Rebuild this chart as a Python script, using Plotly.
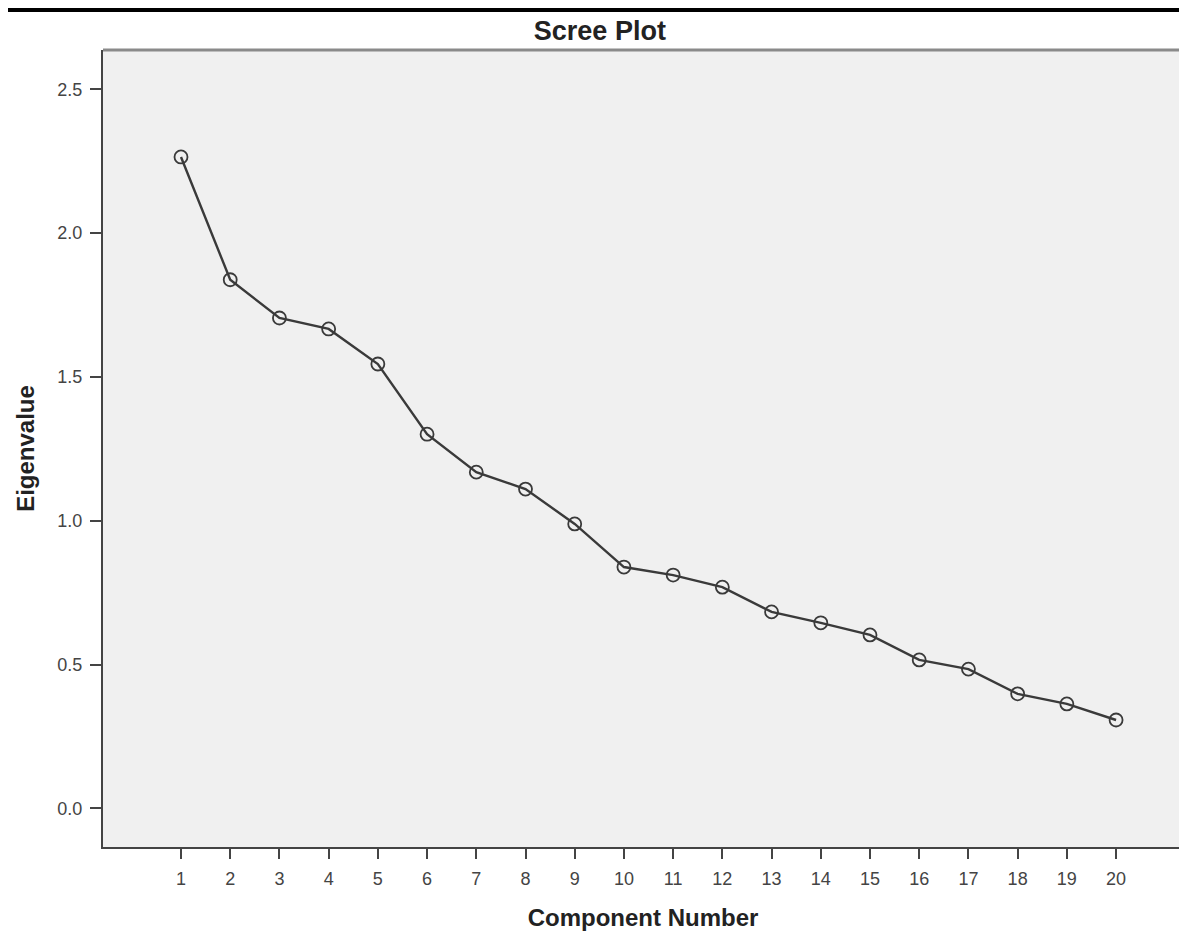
import plotly.graph_objects as go

components = list(range(1, 21))
eigenvalues = [2.265, 1.838, 1.705, 1.667, 1.545, 1.301, 1.169, 1.110, 0.989, 0.839,
               0.811, 0.769, 0.683, 0.645, 0.603, 0.516, 0.484, 0.398, 0.363, 0.307]
y_ticks = [0.0, 0.5, 1.0, 1.5, 2.0, 2.5]
y_tick_labels = ["0.0", "0.5", "1.0", "1.5", "2.0", "2.5"]

fig = go.Figure()
fig.add_trace(go.Scatter(
    x=components, y=eigenvalues, mode="lines+markers",
    line=dict(color="#3a3a3a", width=2.4),
    marker=dict(symbol="circle-open", size=13, color="#3a3a3a", line=dict(width=1.8)),
    showlegend=False,
))

# the page has an 8px body margin, so the figure is shifted by 8px; compensate
fig.update_layout(
    width=1179, height=930,
    margin=dict(l=95, r=4, t=42, b=91),
    paper_bgcolor="white", plot_bgcolor="#f0f0f0",
    title=dict(text="<b>Scree Plot</b>", x=0.502, xanchor="center", y=0.976, yanchor="middle",
               font=dict(family="Liberation Sans", size=27, color="#222")),
    font=dict(family="Liberation Sans", color="#333"),
    xaxis=dict(range=[-0.585, 21.36], tickmode="array", tickvals=components,
               ticktext=[str(c) for c in components], showgrid=False, zeroline=False,
               showline=True, linecolor="#444", linewidth=2, ticks="outside", ticklen=10,
               tickwidth=1.5, tickcolor="#444", tickfont=dict(size=18, color="#444"),
               ticklabelstandoff=4,
               title=dict(text="<b>Component Number</b>", standoff=22,
                          font=dict(size=24, color="#222"))),
    yaxis=dict(range=[-0.1346, 2.637], tickmode="array", tickvals=y_ticks,
               ticktext=y_tick_labels, showgrid=False, zeroline=False,
               showline=True, linecolor="#444", linewidth=2, ticks="outside", ticklen=11,
               tickwidth=1.5, tickcolor="#444", tickfont=dict(size=18, color="#444"),
               ticklabelstandoff=4,
               title=dict(text="<b>Eigenvalue</b>", standoff=16,
                          font=dict(size=24, color="#222"))),
)

# top and right frame of the plot box
fig.add_shape(type="line", xref="paper", yref="paper", x0=0, x1=1, y0=1, y1=1,
              line=dict(color="#8a8a8a", width=3))
fig.add_shape(type="line", xref="paper", yref="paper", x0=1, x1=1, y0=0, y1=1,
              line=dict(color="#dcdcdc", width=1))
# black header rule at the top of the page
fig.add_shape(type="line", xref="paper", yref="paper", x0=-0.1, x1=1.01,
              y0=1.0502, y1=1.0502, line=dict(color="black", width=4))

fig.write_html("out.html")
